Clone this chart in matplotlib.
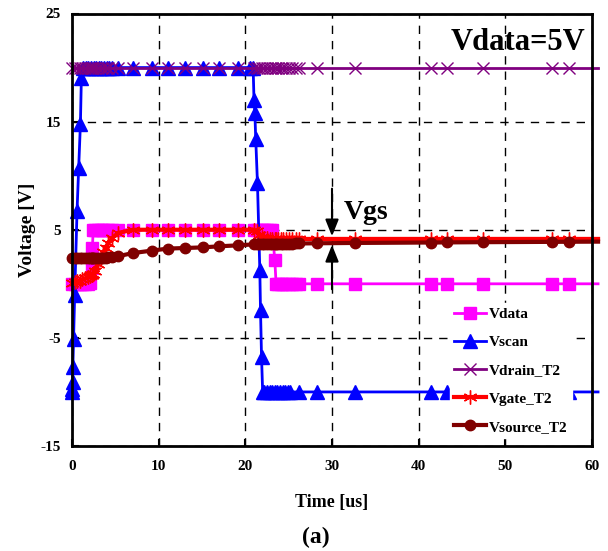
import matplotlib
matplotlib.use("Agg")
import matplotlib.pyplot as plt

plt.rcParams['font.family'] = ['Liberation Serif', 'DejaVu Serif']
plt.rcParams['font.weight'] = 'bold'

# ---------------- data ----------------
t_grid = [0.0, 0.3, 0.6, 0.9, 1.2, 1.5, 1.8, 2.1, 2.25, 2.35, 2.45, 2.7, 3.0, 3.3, 3.6, 3.9, 4.2, 4.6,
          5.3, 7.0, 9.2, 11.1, 13.0, 15.1, 17.0, 19.2,
          21.0, 21.3, 21.6, 21.9, 22.2, 22.5, 22.8, 23.1, 23.4, 23.55, 23.8, 24.1, 24.4, 24.7, 25.0, 25.4, 25.8,
          26.2, 28.3, 32.6, 41.4, 43.3, 47.4, 55.4, 57.3, 60.7]

vdata = [0, 0, 0, 0, 0, 0, 0, 0.1, 1.5, 3.3, 5, 5, 5, 5, 5, 5, 5, 5,
         5, 5, 5, 5, 5, 5, 5, 5,
         5, 5, 5, 5, 5, 5, 5, 5, 2.2, 0, 0, 0, 0, 0, 0, 0, 0,
         0, 0, 0, 0, 0, 0, 0, 0, 0]

vdrain = [20, 20, 20, 20, 20, 20, 20, 20, 20, 20, 20, 20, 20, 20, 20, 20, 20, 20,
          20, 20, 20, 20, 20, 20, 20, 20,
          20, 20, 20, 20, 20, 20, 20, 20, 20, 20, 20, 20, 20, 20, 20, 20, 20,
          20, 20, 20, 20, 20, 20, 20, 20, 20]

vgate = [0.1, 0.2, 0.25, 0.3, 0.4, 0.5, 0.6, 0.7, 0.8, 0.85, 0.9, 1.2, 1.8, 2.4, 2.9, 3.3, 3.8, 4.2,
         4.7, 5.0, 5.0, 5.0, 5.0, 5.0, 5.0, 5.0,
         5.0, 4.9, 4.5, 4.3, 4.2, 4.2, 4.15, 4.15, 4.15, 4.15, 4.15, 4.15, 4.15, 4.15, 4.15, 4.15, 4.15,
         4.15, 4.15, 4.15, 4.15, 4.15, 4.15, 4.15, 4.15, 4.15]

vsource = [2.35, 2.35, 2.35, 2.35, 2.35, 2.35, 2.35, 2.35, 2.35, 2.35, 2.35, 2.35, 2.35, 2.4, 2.4, 2.4, 2.45, 2.45,
           2.55, 2.84, 3.07, 3.26, 3.31, 3.37, 3.47, 3.56,
           3.65, 3.68, 3.68, 3.68, 3.69, 3.69, 3.7, 3.7, 3.7, 3.7, 3.7, 3.71, 3.71, 3.72, 3.72, 3.72, 3.73,
           3.73, 3.75, 3.78, 3.82, 3.83, 3.85, 3.88, 3.89, 3.9]

t_scan = [0.0, 0.03, 0.06, 0.1, 0.18, 0.31, 0.58, 0.77, 0.97, 1.08,
          1.3, 1.6, 1.9, 2.2, 2.5, 2.8, 3.1, 3.4, 3.7, 4.0, 4.3, 4.6,
          5.3, 7.0, 9.2, 11.1, 13.0, 15.1, 17.0, 19.2,
          20.5, 20.9, 21.0, 21.1, 21.2, 21.4, 21.67, 21.75, 21.87, 22.0,
          22.2, 22.5, 22.8, 23.1, 23.4, 23.7, 24.0, 24.3, 24.6, 24.9, 25.2,
          26.2, 28.3, 32.6, 41.4, 43.3, 47.4, 55.4, 57.3, 60.7]
vscan = [-10, -9.7, -9.1, -7.7, -5.1, -1.0, 6.7, 10.7, 14.8, 19.0,
         20, 20, 20, 20, 20, 20, 20, 20, 20, 20, 20, 20,
         20, 20, 20, 20, 20, 20, 20, 20,
         20, 20, 17.0, 15.8, 13.4, 9.3, 1.3, -2.4, -6.8, -10,
         -10, -10, -10, -10, -10, -10, -10, -10, -10, -10, -10,
         -10, -10, -10, -10, -10, -10, -10, -10, -10]

x_ticks = [0, 10, 20, 30, 40, 50, 60]
y_ticks = [-15, -5, 5, 15, 25]

vgs_x = 30
vgs_top = [8.8, 4.4]
vgs_bot = [-0.5, 3.6]

# ---------------- figure ----------------
fig = plt.figure(figsize=(6.08, 5.51), dpi=100)
ax = fig.add_axes([72 / 608, 1 - 446 / 551, 520 / 608, 432.5 / 551])

me = slice(0, -1)  # the final sample sits just past the frame and carries no marker
ax.plot(t_grid, vdata, color='#FF00FF', lw=2.0, marker='s', ms=8.5, mec='#FF00FF', markevery=me,
        label='Vdata', clip_on=False, zorder=3)
ax.plot(t_scan, vscan, color='#0000FF', lw=2.0, marker='^', ms=9.5, mec='#0000FF', markevery=me,
        label='Vscan', clip_on=False, zorder=3)
ax.plot(t_grid, vdrain, color='#800080', lw=2.0, marker='x', ms=9, mew=1.0, markevery=me,
        label='Vdrain_T2', clip_on=False, zorder=3)
ax.plot(t_grid, vgate, color='#FF0000', lw=3.0, marker=(6, 2, 0), ms=10, mew=1.0, markevery=me,
        label='Vgate_T2', clip_on=False, zorder=3)
ax.plot(t_grid, vsource, color='#800000', lw=3.0, marker='o', ms=7.5, markevery=me,
        label='Vsource_T2', clip_on=False, zorder=3)

ax.set_xlim(0, 60)
ax.set_ylim(-15, 25)
ax.set_xticks(x_ticks)
ax.set_yticks(y_ticks)
ax.set_xticklabels([str(v) for v in x_ticks], fontsize=11, fontweight='bold')
ax.set_yticklabels([str(v) for v in y_ticks], fontsize=11, fontweight='bold')
ax.tick_params(direction='in', length=5, width=1.5, colors='black')
ax.tick_params(axis='x', pad=10)
ax.tick_params(axis='y', pad=8)
ax.grid(True, color='black', linestyle=(0, (6, 5)), lw=1.0)
for s in ax.spines.values():
    s.set_linewidth(2.0)
    s.set_color('black')
    s.set_zorder(9)

ax.set_xlabel('Time [us]', fontsize=13, fontweight='bold', labelpad=15)
ax.set_ylabel('Voltage [V]', fontsize=14, fontweight='bold', labelpad=3)

fig.text(0.52, 0.025, '(a)', fontsize=17, fontweight='bold', ha='center', va='center')

ax.text(59.2, 22.3, 'Vdata=5V', fontsize=22, fontweight='bold', ha='right', va='center', zorder=6)

ap = dict(arrowstyle='-|>,head_length=1.0,head_width=0.4', color='black', lw=1.5, shrinkA=0, shrinkB=0)
ax.annotate('', xy=(vgs_x, vgs_top[1]), xytext=(vgs_x, vgs_top[0]), arrowprops=ap, zorder=7)
ax.annotate('', xy=(vgs_x, vgs_bot[1]), xytext=(vgs_x, vgs_bot[0]), arrowprops=ap, zorder=7)
ax.text(31.3, 6.6, 'Vgs', fontsize=20, fontweight='bold', ha='left', va='center', zorder=6)

leg = ax.legend(loc='lower right', bbox_to_anchor=(0.976, 0.0), frameon=True, fancybox=False,
                edgecolor='white', facecolor='white', framealpha=1.0, numpoints=1,
                prop={'family': 'Liberation Serif', 'weight': 'bold', 'size': 11},
                handlelength=2.1, handletextpad=0.15, labelspacing=0.95, borderpad=0.3)
leg.set_zorder(8)

fig.savefig('out.png', dpi=100)
